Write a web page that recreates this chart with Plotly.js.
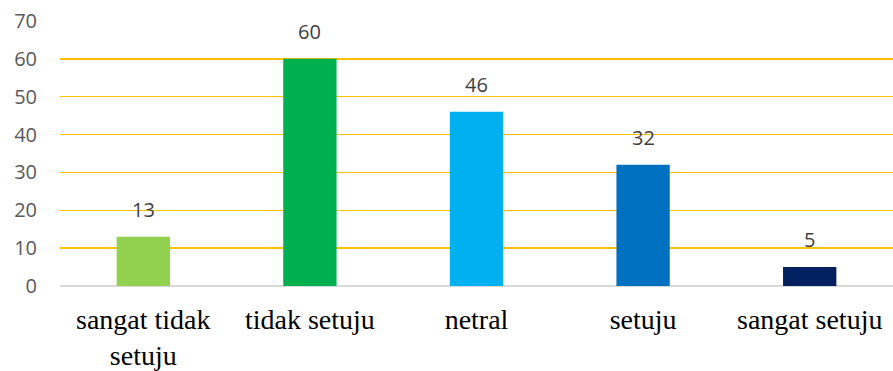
<!DOCTYPE html>
<html>
<head>
<meta charset="utf-8">
<script src="https://cdn.plot.ly/plotly-3.0.1.min.js"></script>
<style>
  html, body { margin: 0; padding: 0; background: #ffffff; }
  #chart { width: 893px; height: 371px; }
</style>
</head>
<body>
<div id="chart"></div>
<script>
// Survey response counts per answer option
const categories = ["sangat tidak<br>setuju", "tidak setuju", "netral", "setuju", "sangat setuju"];
const counts = [13, 60, 46, 32, 5];
const barColors = ["#92D050", "#00B050", "#00B0F0", "#0070C0", "#002060"];
const yTicks = [0, 10, 20, 30, 40, 50, 60, 70];

const trace = {
  type: "bar",
  x: categories,
  y: counts,
  marker: { color: barColors },
  hoverinfo: "x+y"
};

// Value labels sitting above each bar
const valueLabels = categories.map((c, i) => ({
  x: c,
  y: counts[i],
  xref: "x",
  yref: "y",
  text: String(counts[i]),
  showarrow: false,
  yanchor: "bottom",
  yshift: 12,
  font: { family: "Open Sans, sans-serif", size: 20, color: "#404040" }
}));

const layout = {
  width: 893,
  height: 371,
  margin: { l: 60, r: 0, t: 21, b: 85 },
  paper_bgcolor: "#ffffff",
  plot_bgcolor: "#ffffff",
  showlegend: false,
  bargap: 0.68,
  xaxis: {
    type: "category",
    showgrid: false,
    showline: false,
    zeroline: false,
    ticks: "",
    tickangle: 0,
    ticklabelstandoff: 14,
    tickfont: { family: "Liberation Serif", size: 28, color: "#000000" }
  },
  yaxis: {
    range: [0, 70],
    tickvals: yTicks,
    ticktext: yTicks.map(String),
    showgrid: true,
    gridcolor: "#FFC000",
    gridwidth: 1.5,
    zeroline: true,
    zerolinecolor: "#D9D9D9",
    zerolinewidth: 2,
    showline: false,
    ticks: "",
    ticklabelstandoff: 22,
    tickfont: { family: "Open Sans, sans-serif", size: 20, color: "#595959" }
  },
  annotations: valueLabels
};

Plotly.newPlot("chart", [trace], layout, { displayModeBar: false, staticPlot: true });
</script>
</body>
</html>
